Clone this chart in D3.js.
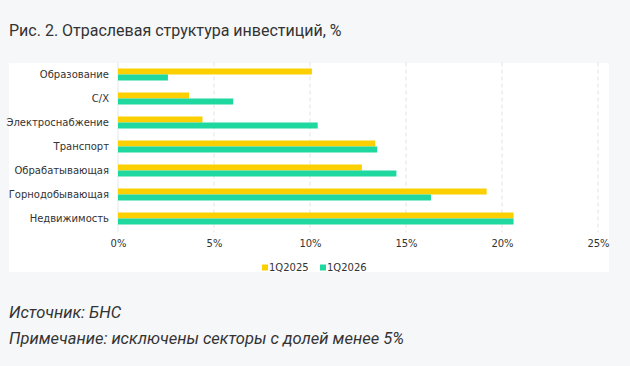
<!DOCTYPE html>
<html lang="ru">
<head>
<meta charset="utf-8" />
<title>Отраслевая структура инвестиций</title>
<style>
  body  { margin:0; background:#f6f7f9; font-family:Roboto,sans-serif; }
  svg   { display:block; }
  .title { font-size:16px; fill:#333; }
  .note  { font-size:16.5px; fill:#333; font-style:italic; }
  .tick text, .legend text { font-family:"DejaVu Sans",Verdana,sans-serif; font-size:10px; fill:#333; }
</style>
</head>
<body>
<svg width="630" height="366"></svg>
<script src="https://cdn.jsdelivr.net/npm/d3@7"></script>
<script>
/* ---------- DATA ---------- */
const sectors   = ["Образование","С/Х","Электроснабжение","Транспорт","Обрабатывающая","Горнодобывающая","Недвижимость"];
const q2025     = [10.1, 3.7, 4.4, 13.4, 12.7, 19.2, 20.6];
const q2026     = [2.6, 6.0, 10.4, 13.5, 14.5, 16.3, 20.6];
const seriesNames = ["1Q2025","1Q2026"];
const xTicks    = [0, 5, 10, 15, 20, 25];
const colors    = ["#fcd000","#1ed8a0"];

/* ---------- LAYOUT ---------- */
const svg = d3.select("svg");
const panel = { x:9, y:63, w:600, h:209 };
const plot  = { left:118, right:598, top:62.5, bottom:230.5 };

svg.append("text").attr("class","title").attr("x",9).attr("y",36)
   .text("Рис. 2. Отраслевая структура инвестиций, %");

svg.append("rect").attr("x",panel.x).attr("y",panel.y)
   .attr("width",panel.w).attr("height",panel.h).attr("fill","#fff");

/* ---------- SCALES ---------- */
const x = d3.scaleLinear().domain([0,25]).range([plot.left, plot.right]);
const y = d3.scaleBand().domain(sectors).range([plot.top, plot.bottom]).paddingInner(0.5).paddingOuter(0.25);
const sub = d3.scaleBand().domain(seriesNames).range([0, y.bandwidth()]);

/* grid */
svg.append("g").selectAll("line")
  .data(xTicks.filter(d => d > 0))
  .join("line")
    .attr("x1",d=>x(d)).attr("x2",d=>x(d))
    .attr("y1",plot.top).attr("y2",plot.bottom+2)
    .attr("stroke","#e3e3e3").attr("stroke-dasharray","4,3");
svg.append("line")
   .attr("x1",x(0)).attr("x2",x(0)).attr("y1",plot.top).attr("y2",plot.bottom+2)
   .attr("stroke","#e6e6e6");

/* bars */
const series = [q2025, q2026];
series.forEach((vals, si) => {
  svg.append("g").selectAll("rect")
    .data(sectors)
    .join("rect")
      .attr("x", x(0))
      .attr("y", (d) => y(d) + sub(seriesNames[si]))
      .attr("width", (d,i) => x(vals[i]) - x(0))
      .attr("height", sub.bandwidth())
      .attr("fill", colors[si]);
});

/* axes */
const yAxis = svg.append("g").attr("transform",`translate(${plot.left},0)`)
  .call(d3.axisLeft(y).tickSize(0).tickPadding(9));
yAxis.select(".domain").remove();

const xAxis = svg.append("g").attr("transform",`translate(0,${plot.bottom})`)
  .call(d3.axisBottom(x).tickValues(xTicks).tickFormat(d => d + "%").tickSize(0).tickPadding(9));
xAxis.select(".domain").remove();

/* legend */
const legend = svg.append("g").attr("class","legend").attr("transform","translate(262,267.5)");
const lx = [0, 58];
seriesNames.forEach((n,i) => {
  const g = legend.append("g").attr("transform",`translate(${lx[i]},0)`);
  g.append("rect").attr("x",0).attr("y",-3).attr("width",6).attr("height",6).attr("fill",colors[i]);
  g.append("text").attr("x",7).attr("dy","0.35em").text(n);
});

/* notes */
svg.append("text").attr("class","note").attr("x",9).attr("y",318).text("Источник: БНС");
svg.append("text").attr("class","note").attr("x",9).attr("y",344).text("Примечание: исключены секторы с долей менее 5%");
</script>
</body>
</html>
